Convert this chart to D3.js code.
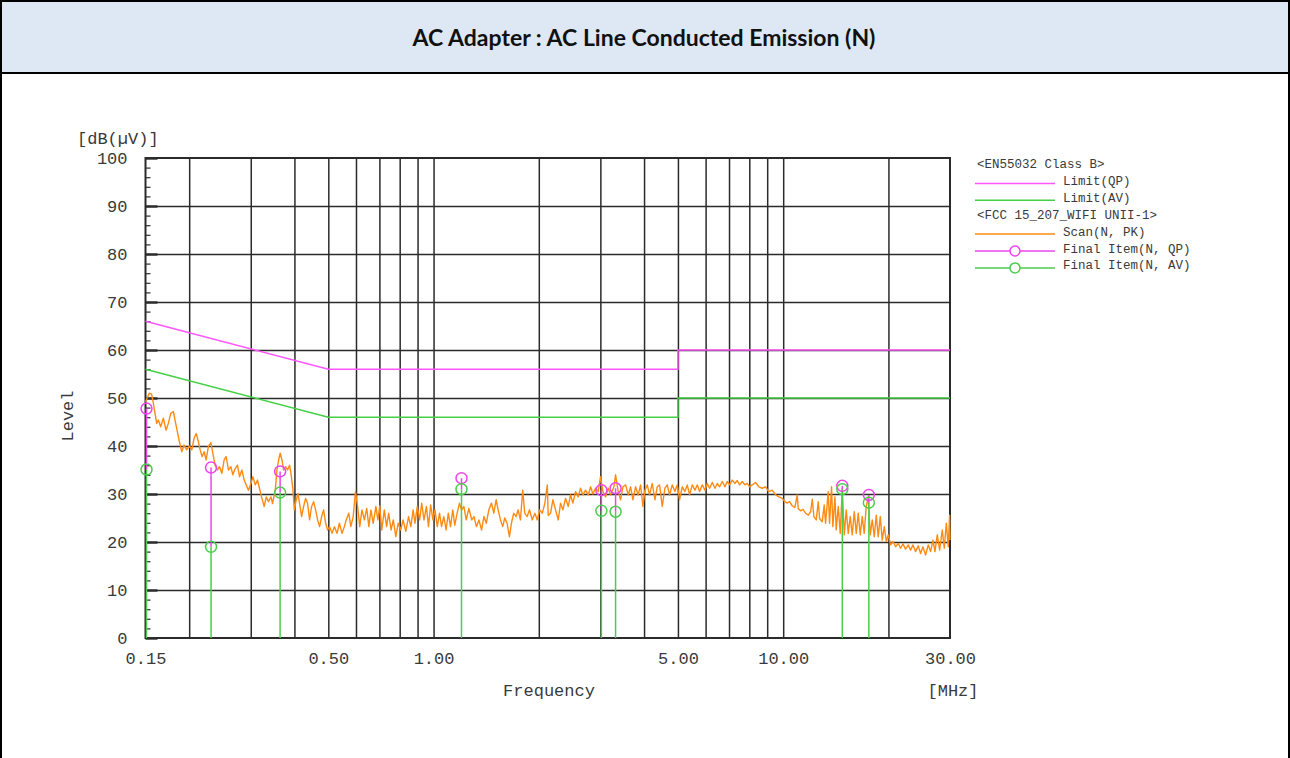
<!DOCTYPE html>
<html>
<head>
<meta charset="utf-8">
<script src="https://cdn.jsdelivr.net/npm/d3@7"></script>
<style>
  html, body { margin: 0; padding: 0; background: #fff; }
  svg { display: block; }
</style>
</head>
<body>
<svg id="chart" width="1290" height="758"></svg>
<script>
// ---- data -------------------------------------------------------------
const titleText = "AC Adapter : AC Line Conducted Emission (N)";

// EN55032 Class B limits [MHz, dB(uV)]
const limitQP = [[0.15, 66], [0.5, 56], [5, 56], [5, 60], [30, 60]];
const limitAV = [[0.15, 56], [0.5, 46], [5, 46], [5, 50], [30, 50]];

// Final measurement items
const finalFreq = [0.151, 0.231, 0.364, 1.202, 3.02, 3.316, 14.76, 17.58];
const finalQP   = [47.8, 35.5, 34.7, 33.3, 30.8, 31.2, 31.7, 29.8];
const finalAV   = [35.1, 19.0, 30.3, 31.0, 26.5, 26.3, 31.0, 28.2];

// Axis ticks
const xTickValues = [0.15, 0.5, 1, 5, 10, 30];
const xTickLabels = ["0.15", "0.50", "1.00", "5.00", "10.00", "30.00"];
const xGridValues = [0.2, 0.3, 0.4, 0.5, 0.6, 0.7, 0.8, 0.9, 1, 2, 3, 4, 5, 6, 7, 8, 9, 10, 20];
const yTickValues = [0, 10, 20, 30, 40, 50, 60, 70, 80, 90, 100];
const yTickLabels = ["0", "10", "20", "30", "40", "50", "60", "70", "80", "90", "100"];

// Legend entries
const legendRows = [
  { kind: "header", text: "<EN55032 Class B>" },
  { kind: "line", key: "qpLimit", text: "Limit(QP)" },
  { kind: "line", key: "avLimit", text: "Limit(AV)" },
  { kind: "header", text: "<FCC 15_207_WIFI UNII-1>" },
  { kind: "line", key: "scan", text: "Scan(N, PK)" },
  { kind: "marker", key: "qpItem", text: "Final Item(N, QP)" },
  { kind: "marker", key: "avItem", text: "Final Item(N, AV)" }
];

// Peak scan, neutral line [MHz, dB(uV)]
const scanPK = [
  [0.150,49.2],[0.1538,51.0],[0.1562,50.8],[0.158,48.9],[0.1597,46.8],[0.1615,44.7],[0.1632,45.4],[0.1658,44.0],
  [0.1687,45.8],[0.1717,43.3],[0.1743,44.7],[0.1772,46.8],[0.1802,47.2],[0.1822,45.4],[0.185,43.0],[0.1875,40.9],
  [0.1905,38.8],[0.1934,40.2],[0.1968,39.2],[0.2003,40.0],[0.2035,39.2],[0.2065,41.6],[0.2094,42.6],[0.2125,40.9],
  [0.2149,39.2],[0.2178,37.8],[0.2207,38.8],[0.2236,37.1],[0.227,39.9],[0.2307,40.7],[0.2337,38.5],[0.2372,36.0],
  [0.2409,35.0],[0.2441,35.7],[0.248,34.3],[0.2518,37.1],[0.2551,37.8],[0.2591,35.0],[0.2632,35.7],[0.2666,34.0],
  [0.2708,35.3],[0.2749,36.0],[0.2786,33.6],[0.283,35.0],[0.2873,32.9],[0.2911,31.9],[0.2955,30.8],[0.3003,32.2],
  [0.3043,33.6],[0.309,31.9],[0.3136,32.9],[0.3178,31.2],[0.3229,29.1],[0.3278,27.4],[0.3322,29.4],[0.3372,28.4],
  [0.3427,29.4],[0.3463,28.0],[0.3525,30.8],[0.3565,35.0],[0.3612,37.4],[0.3643,38.5],[0.3685,37.1],[0.3724,35.0],
  [0.3773,35.7],[0.3823,35.0],[0.3874,36.0],[0.391,34.3],[0.3962,30.8],[0.3996,26.7],[0.4049,28.8],[0.4095,30.1],
  [0.4138,28.0],[0.4194,25.3],[0.4249,27.4],[0.4306,29.1],[0.4362,28.0],[0.4421,24.6],[0.4479,27.4],[0.4539,28.4],
  [0.4599,26.7],[0.466,24.6],[0.4722,23.2],[0.4784,25.3],[0.4848,26.7],[0.4913,23.9],[0.4977,22.5],[0.5044,23.2],
  [0.5124,21.8],[0.5203,23.2],[0.5296,21.8],[0.5377,23.9],[0.5473,21.8],[0.5557,23.2],
  [0.5625,24.6],[0.572,26.0],[0.580,23.2],[0.589,25.3],[0.598,30.5],[0.6065,27.4],[0.615,23.2],[0.624,26.7],
  [0.634,24.6],[0.644,27.0],[0.653,23.2],[0.662,26.7],[0.672,23.9],[0.684,27.4],[0.693,24.6],[0.7015,27.5],
  [0.711,22.5],[0.723,26.7],[0.734,23.2],[0.744,26.0],[0.756,22.5],[0.767,24.6],[0.780,21.1],[0.792,23.9],
  [0.8056,22.5],[0.818,24.6],[0.833,22.2],[0.848,25.3],[0.861,23.2],[0.874,26.7],[0.885,23.9],[0.898,27.4],
  [0.9125,24.6],[0.925,28.1],[0.939,24.6],[0.954,27.4],[0.967,23.2],[0.981,27.7],[0.996,24.6],[1.009,26.7],
  [1.025,23.2],[1.040,26.0],[1.054,23.2],[1.070,25.3],[1.086,22.5],[1.102,26.0],[1.118,23.2],[1.135,26.7],
  [1.150,23.5],[1.168,26.0],[1.186,28.1],[1.202,26.7],[1.221,27.4],[1.240,24.6],[1.262,27.0],[1.286,24.6],
  [1.305,25.3],[1.326,23.2],[1.348,24.6],[1.372,22.5],[1.393,25.3],[1.415,23.9],[1.439,26.7],[1.465,28.1],
  [1.487,26.0],[1.510,28.8],[1.530,26.7],[1.554,24.6],[1.577,23.2],[1.598,25.0],[1.623,23.9],[1.648,21.1],
  [1.670,23.9],[1.695,26.0],[1.722,25.3],[1.745,26.7],[1.772,24.6],[1.799,30.8],[1.823,26.0],[1.852,25.3],
  [1.881,26.7],[1.915,24.6],[1.949,26.0],[1.980,24.6],[2.011,26.7],[2.047,26.0],[2.082,28.1],[2.115,31.9],
  [2.128,25.5],[2.161,26.0],[2.194,28.8],[2.233,26.7],[2.273,24.6],[2.308,28.1],[2.344,26.7],[2.385,29.1],
  [2.428,27.4],[2.465,29.8],[2.504,28.1],[2.548,30.5],[2.593,29.4],[2.633,31.2],[2.674,29.8],[2.721,30.8],
  [2.770,29.8],[2.813,31.5],[2.856,30.0],[2.907,31.2],[2.958,30.5],[3.003,33.6],[3.050,30.5],[3.104,29.4],
  [3.159,31.2],[3.208,29.8],[3.280,31.5],[3.316,34.0],[3.374,30.5],[3.427,28.8],[3.480,31.5],[3.542,31.9],
  [3.605,29.8],[3.661,31.5],[3.717,28.8],[3.783,31.5],[3.850,29.8],[3.910,31.9],[3.970,27.4],[4.023,30.8],
  [4.085,31.9],[4.148,29.8],[4.222,32.2],[4.297,28.8],[4.363,31.5],[4.431,31.9],[4.509,27.4],[4.589,31.2],
  [4.660,31.9],[4.732,29.8],[4.816,31.9],[4.901,30.5],[4.977,31.9],[5.054,28.8],[5.144,31.5],[5.235,30.5],
  [5.317,31.9],[5.399,29.8],[5.495,31.9],[5.592,30.8],[5.679,31.9],[5.767,30.5],[5.869,31.9],[5.973,30.8],
  [6.065,32.2],[6.159,31.2],[6.268,32.4],[6.379,31.2],[6.478,32.2],[6.579,31.5],[6.695,32.6],[6.813,31.5],
  [6.918,32.6],[7.025,31.9],[7.150,32.9],[7.276,32.2],[7.389,32.8],[7.504,31.9],[7.637,32.6],[7.772,31.9],
  [7.892,32.2],[8.014,31.5],[8.155,31.9],[8.336,32.4],[8.521,31.5],[8.710,31.2],[8.903,31.5],[9.100,30.5],
  [9.302,30.8],[9.511,29.8],[9.722,29.4],[9.939,29.1],[10.11,28.4],[10.27,28.1],[10.43,28.4],[10.62,27.5],
  [10.80,27.2],[10.97,29.8],[11.04,27.0],[11.21,26.5],[11.39,26.8],[11.59,26.0],[11.80,25.6],[11.98,26.3],
  [12.11,28.9],[12.24,25.3],[12.43,24.6],[12.60,28.4],[12.71,24.9],[12.93,24.2],[13.10,27.7],[13.22,23.9],
  [13.45,30.5],[13.57,23.9],[13.75,31.5],[13.87,23.2],[14.06,29.4],[14.18,22.5],[14.37,27.4],[14.56,21.8],
  [14.76,31.2],[14.95,21.5],[15.15,26.7],[15.35,21.8],[15.55,25.3],[15.76,21.5],[15.97,26.3],[16.18,21.8],
  [16.39,26.0],[16.61,21.5],[16.83,25.3],[17.05,21.8],[17.28,27.4],[17.51,29.4],[17.74,21.5],[17.98,24.6],
  [18.22,21.1],[18.46,25.6],[18.70,21.1],[18.95,25.3],[19.20,20.4],[19.46,23.2],[19.72,20.1],[19.98,21.5],
  [20.29,19.4],[20.60,20.1],[20.97,19.0],[21.34,19.7],[21.67,18.7],[22.01,19.6],[22.39,18.5],[22.79,19.4],
  [23.14,18.3],[23.50,19.4],[23.91,18.0],[24.34,19.2],[24.72,17.6],[25.10,19.0],[25.54,17.3],[26.00,19.4],
  [26.40,18.0],[26.81,20.4],[27.17,18.0],[27.59,21.5],[28.02,18.3],[28.51,22.5],[28.89,18.7],[29.28,23.9],
  [29.66,19.0],[29.92,25.6],[30.0,20.4]
];

// ---- layout & style ---------------------------------------------------
const W = 1290, H = 758;
const plot = { left: 145.5, right: 950, top: 158, bottom: 638 };
const colors = {
  qpLimit: "#ff55ff",
  avLimit: "#44d044",
  scan: "#ff8a12",
  qpItem: "#ee44ee",
  avItem: "#4ccc4c",
  grid: "#2b2b2b",
  text: "#3a3a3a"
};
const monoFont = "'Liberation Mono', 'DejaVu Sans Mono', monospace";
const axisFontSize = 17;

const svg = d3.select("#chart");

// ---- frame & title bar ------------------------------------------------
svg.append("rect")
  .attr("x", 1).attr("y", 1).attr("width", W - 2).attr("height", 72)
  .attr("fill", "#dde8f4").attr("stroke", "#000").attr("stroke-width", 2);
svg.append("line").attr("x1", 1).attr("x2", 1).attr("y1", 73).attr("y2", H)
  .attr("stroke", "#000").attr("stroke-width", 2);
svg.append("line").attr("x1", W - 1).attr("x2", W - 1).attr("y1", 73).attr("y2", H)
  .attr("stroke", "#000").attr("stroke-width", 2);
svg.append("text")
  .attr("x", W / 2 - 1).attr("y", 37)
  .attr("text-anchor", "middle").attr("dominant-baseline", "central")
  .attr("font-family", "Lato, 'Open Sans', sans-serif")
  .attr("font-weight", 700).attr("font-size", 23)
  .attr("fill", "#111")
  .text(titleText);

// ---- scales -----------------------------------------------------------
const x = d3.scaleLog().domain([0.15, 30]).range([plot.left, plot.right]);
const y = d3.scaleLinear().domain([0, 100]).range([plot.bottom, plot.top]);

// ---- grid -------------------------------------------------------------
const gridG = svg.append("g");
gridG.append("g")
  .attr("transform", `translate(0,${plot.bottom})`)
  .call(d3.axisBottom(x).tickValues(xGridValues).tickSize(-(plot.bottom - plot.top)).tickFormat(""))
  .call(g => g.select(".domain").remove())
  .call(g => g.selectAll("line").attr("stroke", colors.grid).attr("stroke-width", 1.5));
gridG.append("g")
  .attr("transform", `translate(${plot.left},0)`)
  .call(d3.axisLeft(y).tickValues(yTickValues.slice(1, -1)).tickSize(-(plot.right - plot.left)).tickFormat(""))
  .call(g => g.select(".domain").remove())
  .call(g => g.selectAll("line").attr("stroke", colors.grid).attr("stroke-width", 1.5));

// minor and major ticks on the level axis
svg.append("g")
  .attr("transform", `translate(${plot.left},0)`)
  .call(d3.axisRight(y).tickValues(d3.range(0, 101, 2)).tickSize(5).tickFormat(""))
  .call(g => g.select(".domain").remove())
  .call(g => g.selectAll("line").attr("stroke", colors.grid).attr("stroke-width", 1.2));
svg.append("g")
  .attr("transform", `translate(${plot.left},0)`)
  .call(d3.axisRight(y).tickValues(yTickValues).tickSize(12).tickFormat(""))
  .call(g => g.select(".domain").remove())
  .call(g => g.selectAll("line").attr("stroke", colors.grid).attr("stroke-width", 2.4));

// plot frame
svg.append("rect")
  .attr("x", plot.left).attr("y", plot.top)
  .attr("width", plot.right - plot.left).attr("height", plot.bottom - plot.top)
  .attr("fill", "none").attr("stroke", colors.grid).attr("stroke-width", 2);

// ---- axis labels ------------------------------------------------------
svg.append("g")
  .attr("transform", `translate(0,${plot.bottom})`)
  .call(d3.axisBottom(x).tickValues(xTickValues).tickSize(0).tickPadding(14)
    .tickFormat((d, i) => xTickLabels[i]))
  .call(g => g.select(".domain").remove())
  .call(g => g.selectAll("text").attr("font-family", monoFont).attr("font-size", axisFontSize).attr("fill", colors.text));

svg.append("g")
  .attr("transform", `translate(${plot.left},0)`)
  .call(d3.axisLeft(y).tickValues(yTickValues).tickSize(0).tickPadding(18)
    .tickFormat((d, i) => yTickLabels[i]))
  .call(g => g.select(".domain").remove())
  .call(g => g.selectAll("text").attr("font-family", monoFont).attr("font-size", axisFontSize).attr("fill", colors.text));

const labelStyle = sel => sel.attr("font-family", monoFont).attr("font-size", axisFontSize).attr("fill", colors.text);
svg.append("text").attr("x", 77).attr("y", 144).text("[dB(\u00b5V)]").call(labelStyle);
svg.append("text").attr("x", 549).attr("y", 696).attr("text-anchor", "middle").text("Frequency").call(labelStyle);
svg.append("text").attr("x", 953).attr("y", 696).attr("text-anchor", "middle").text("[MHz]").call(labelStyle);
svg.append("text")
  .attr("transform", "translate(73,416) rotate(-90)")
  .attr("text-anchor", "middle").text("Level").call(labelStyle);

// ---- limit lines ------------------------------------------------------
const line = d3.line().x(d => x(d[0])).y(d => y(d[1]));
svg.append("path").datum(limitQP).attr("d", line)
  .attr("fill", "none").attr("stroke", colors.qpLimit).attr("stroke-width", 1.5);
svg.append("path").datum(limitAV).attr("d", line)
  .attr("fill", "none").attr("stroke", colors.avLimit).attr("stroke-width", 1.5);

// ---- peak scan --------------------------------------------------------
svg.append("path").datum(scanPK).attr("d", line)
  .attr("fill", "none").attr("stroke", colors.scan).attr("stroke-width", 1.4)
  .attr("stroke-linejoin", "round");

// ---- final items ------------------------------------------------------
// QP stem shows above the AV stem; AV stem runs from the axis to the AV reading
const items = finalFreq.map((f, i) => ({ f, qp: finalQP[i], av: finalAV[i] }));
const itemG = svg.append("g");
itemG.selectAll("line.qp").data(items).join("line").attr("class", "qp")
  .attr("x1", d => x(d.f)).attr("x2", d => x(d.f))
  .attr("y1", d => y(Math.min(d.av, d.qp))).attr("y2", d => y(d.qp))
  .attr("stroke", colors.qpItem).attr("stroke-width", 1.5);
itemG.selectAll("line.av").data(items).join("line").attr("class", "av")
  .attr("x1", d => x(d.f)).attr("x2", d => x(d.f))
  .attr("y1", y(0)).attr("y2", d => y(d.av))
  .attr("stroke", colors.avItem).attr("stroke-width", 1.5);
itemG.selectAll("circle.qp").data(items).join("circle").attr("class", "qp")
  .attr("cx", d => x(d.f)).attr("cy", d => y(d.qp)).attr("r", 5.5)
  .attr("fill", "none").attr("stroke", colors.qpItem).attr("stroke-width", 1.5);
itemG.selectAll("circle.av").data(items).join("circle").attr("class", "av")
  .attr("cx", d => x(d.f)).attr("cy", d => y(d.av)).attr("r", 5.5)
  .attr("fill", "none").attr("stroke", colors.avItem).attr("stroke-width", 1.5);

// ---- legend -----------------------------------------------------------
const legend = svg.append("g").attr("transform", "translate(975,165)");
const rowStep = 16.9;
legendRows.forEach((r, i) => {
  const g = legend.append("g").attr("transform", `translate(0,${i * rowStep})`);
  const txt = g.append("text")
    .attr("dominant-baseline", "central")
    .attr("font-family", monoFont).attr("font-size", 12.5).attr("fill", colors.text)
    .text(r.text);
  if (r.kind === "header") {
    txt.attr("x", 2);
  } else {
    txt.attr("x", 88);
    g.append("line").attr("x1", 0).attr("x2", 80).attr("y1", 1.5).attr("y2", 1.5)
      .attr("stroke", colors[r.key]).attr("stroke-width", 1.5);
    if (r.kind === "marker") {
      g.append("circle").attr("cx", 40).attr("cy", 1.5).attr("r", 5)
        .attr("fill", "#fff").attr("stroke", colors[r.key]).attr("stroke-width", 1.5);
    }
  }
});
</script>
</body>
</html>
